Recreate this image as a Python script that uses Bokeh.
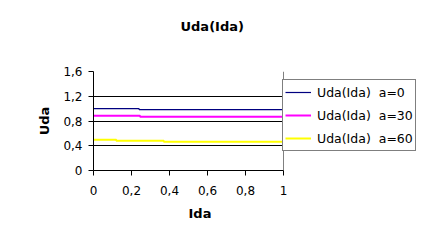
from bokeh.plotting import figure
from bokeh.embed import file_html
from bokeh.resources import INLINE
from bokeh.models import Range1d, FixedTicker, CustomJSTickFormatter, Legend, LegendItem, Title

# data (step curves)
ida_a0 = [0.0, 0.24, 1.0]
uda_a0 = [1.0, 0.985, 0.985]
ida_a30 = [0.0, 0.245, 1.0]
uda_a30 = [0.885, 0.87, 0.87]
ida_a60 = [0.0, 0.12, 0.37, 1.0]
uda_a60 = [0.497, 0.48, 0.465, 0.465]
x_ticks = [0, 0.2, 0.4, 0.6, 0.8, 1.0]
y_ticks = [0, 0.4, 0.8, 1.2, 1.6]
labels = ["Uda(Ida)  a=0", "Uda(Ida)  a=30", "Uda(Ida)  a=60"]
colors = ["#000080", "#FF00FF", "#FFFF00"]

FONT = "DejaVu Sans"

# plot area covers x in [0, 1]; frame extended to the right to host the legend
X_END = (419 - 93) / 190.0

p = figure(width=424, height=242, output_backend="svg", toolbar_location=None,
           x_range=Range1d(0, X_END), y_range=Range1d(0, 1.6),
           min_border_left=93, min_border_right=5, min_border_top=71, min_border_bottom=72)
p.background_fill_color = "white"
p.border_fill_color = "white"
p.outline_line_color = None

p.title.text = "Uda(Ida)"
p.title.text_font = FONT
p.title.text_font_size = "13px"
p.title.text_font_style = "bold"
p.title.text_color = "black"
p.title.align = "left"
p.title.offset = 87
spacer = Title(text=" ", text_font_size="19px")
p.add_layout(spacer, "above")

fmt = CustomJSTickFormatter(code="return (Math.round(tick*10)/10).toString().replace('.', ',');")

for ax in (p.xaxis[0], p.yaxis[0]):
    ax.formatter = fmt
    ax.major_label_text_font = FONT
    ax.major_label_text_font_size = "12px"
    ax.major_label_text_color = "black"
    ax.axis_label_text_font = FONT
    ax.axis_label_text_font_size = "13px"
    ax.axis_label_text_font_style = "bold"
    ax.axis_label_text_color = "black"
    ax.axis_line_color = "black"
    ax.major_tick_line_color = "black"
    ax.major_tick_out = 5
    ax.major_tick_in = 0
    ax.minor_tick_line_color = None

p.xaxis[0].ticker = FixedTicker(ticks=x_ticks)
p.xaxis[0].bounds = (0, 1)
p.yaxis[0].ticker = FixedTicker(ticks=y_ticks)
p.yaxis.axis_label = "Uda"
p.xaxis.major_label_standoff = 10
p.yaxis.major_label_standoff = 6
p.yaxis.axis_label_standoff = 8

# x-axis title placed under the [0, 1] part of the axis
x_title = Title(text="Ida", text_font=FONT, text_font_size="13px", text_font_style="bold",
                text_color="black", align="left", offset=95, standoff=13)
p.add_layout(x_title, "below")

# right border of the plot area (grey) at x = 1
p.xgrid.ticker = FixedTicker(ticks=[1])
p.xgrid.grid_line_color = "#808080"
p.xgrid.grid_line_alpha = 1.0
p.ygrid.grid_line_color = "black"
p.ygrid.grid_line_alpha = 1.0
p.ygrid.ticker = FixedTicker(ticks=y_ticks)
try:
    p.ygrid.cross_bounds = (0, 1)
except Exception:
    pass

r0 = p.step(ida_a0, uda_a0, mode="after", line_color=colors[0], line_width=1.2)
r1 = p.step(ida_a30, uda_a30, mode="after", line_color=colors[1], line_width=2)
r2 = p.step(ida_a60, uda_a60, mode="after", line_color=colors[2], line_width=2)

legend = Legend(items=[LegendItem(label=labels[0], renderers=[r0]),
                       LegendItem(label=labels[1], renderers=[r1]),
                       LegendItem(label=labels[2], renderers=[r2])],
                location=(189, 19))
legend.border_line_color = "black"
legend.border_line_width = 1
legend.background_fill_color = "white"
legend.background_fill_alpha = 1.0
legend.label_text_font = FONT
legend.label_text_font_size = "12.5px"
legend.label_text_color = "black"
legend.glyph_width = 26
legend.glyph_height = 20
legend.label_height = 20
legend.spacing = 3
legend.padding = 2
legend.margin = 0
legend.label_standoff = 6
p.add_layout(legend, "center")

open("out.html", "w").write(file_html(p, INLINE))
